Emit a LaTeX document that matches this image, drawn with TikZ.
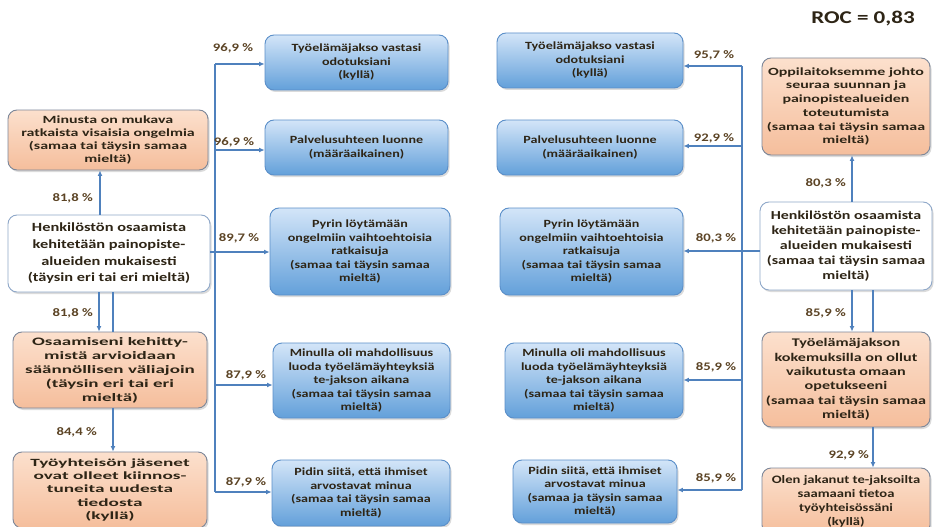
\documentclass[tikz,border=0pt]{standalone}
\usepackage{fontspec}
\setmainfont{Carlito}[FakeStretch=1.28]
% wider cuts of the same face for the side columns
\newfontfamily\fontsB{Carlito}[FakeStretch=1.31]
\newfontfamily\fontsC{Carlito}[FakeStretch=1.38]
\newfontfamily\fontsD{Carlito}[FakeStretch=1.45]
\newfontfamily\fontsE{Carlito}[FakeStretch=1.67]
\newfontfamily\fontsF{Carlito}[FakeStretch=1.75]
\usetikzlibrary{arrows.meta,shadows}

\definecolor{txt}{HTML}{2E2516}
\definecolor{pct}{HTML}{5C4425}
\definecolor{link}{HTML}{4F81BD}
\definecolor{peachtop}{HTML}{FCE0CD}
\definecolor{peachbot}{HTML}{F5BE9C}
\definecolor{peachedge}{HTML}{7D8799}
\definecolor{bluetop}{HTML}{D3E5F8}
\definecolor{bluebot}{HTML}{63A0DA}
\definecolor{blueedge}{HTML}{5B8FC9}
\definecolor{whiteedge}{HTML}{8FA8C9}

\tikzset{
  card/.style={rounded corners=9pt, align=center, text=txt, inner sep=1pt,
    font=\bfseries\fontsize{11}{13.5}\selectfont, line width=0.9pt,
    drop shadow={opacity=0.28, shadow xshift=1.5pt, shadow yshift=-2pt}},
  peachcard/.style={card, draw=peachedge, top color=peachtop, bottom color=peachbot},
  bluecard/.style={card, draw=blueedge, top color=bluetop, bottom color=bluebot},
  plaincard/.style={card, draw=whiteedge, fill=white},
  conn/.style={draw=link, line width=1.3pt},
  arr/.style={conn, -{Latex[length=5.5pt,width=5pt]}},
  pctlabel/.style={text=pct, font=\bfseries\fontsize{11.5}{13}\selectfont, inner sep=1pt},
}

\begin{document}
\begin{tikzpicture}[x=1pt,y=-1pt]
\useasboundingbox[fill=white] (0,0) rectangle (935,527);

% ---- left column ----
\node[peachcard, minimum width=200pt, minimum height=60pt,
      font=\fontsD\bfseries\fontsize{11}{12.7}\selectfont] (L1) at (108,140)
  {Minusta on mukava\\ratkaista visaisia ongelmia\\(samaa tai täysin samaa\\mieltä)};
\node[plaincard, minimum width=202pt, minimum height=77pt,
      font=\fontsB\bfseries\fontsize{12.5}{16.7}\selectfont] (L2) at (109,253.5)
  {Henkilöstön osaamista\\kehitetään painopiste-\\alueiden mukaisesti\\(täysin eri tai eri mieltä)};
\node[peachcard, minimum width=194pt, minimum height=76pt,
      font=\fontsE\bfseries\fontsize{11.4}{14}\selectfont] (L3) at (110,370)
  {Osaamiseni kehitty-\\mistä arvioidaan\\säännöllisen väliajoin\\(täysin eri tai eri\\mieltä)};
\node[peachcard, minimum width=194pt, minimum height=76pt,
      font=\fontsF\bfseries\fontsize{11}{13.3}\selectfont] (L4) at (110,490)
  {Työyhteisön jäsenet\\ovat olleet kiinnos-\\tuneita uudesta\\tiedosta\\(kyllä)};

% ---- middle left column ----
\node[bluecard, minimum width=183pt, minimum height=55pt] (M1) at (356.5,62.5)
  {Työelämäjakso vastasi\\odotuksiani\\(kyllä)};
\node[bluecard, minimum width=183pt, minimum height=55pt] (M2) at (356.5,147.5)
  {Palvelusuhteen luonne\\(määräaikainen)};
\node[bluecard, minimum width=180pt, minimum height=87pt] (M3) at (360,251.5)
  {Pyrin löytämään\\ongelmiin vaihtoehtoisia\\ratkaisuja\\(samaa tai täysin samaa\\mieltä)};
\node[bluecard, minimum width=177pt, minimum height=75pt] (M4) at (361.5,380.5)
  {Minulla oli mahdollisuus\\luoda työelämäyhteyksiä\\te-jakson aikana\\(samaa tai täysin samaa\\mieltä)};
\node[bluecard, minimum width=178pt, minimum height=66pt] (M5) at (361,493)
  {Pidin siitä, että ihmiset\\arvostavat minua\\(samaa tai täysin samaa\\mieltä)};

% ---- middle right column ----
\node[bluecard, minimum width=186pt, minimum height=55pt] (R1) at (590,60.5)
  {Työelämäjakso vastasi\\odotuksiani\\(kyllä)};
\node[bluecard, minimum width=186pt, minimum height=55pt] (R2) at (590,147.5)
  {Palvelusuhteen luonne\\(määräaikainen)};
\node[bluecard, minimum width=183pt, minimum height=87pt] (R3) at (591.5,251.5)
  {Pyrin löytämään\\ongelmiin vaihtoehtoisia\\ratkaisuja\\(samaa tai täysin samaa\\mieltä)};
\node[bluecard, minimum width=178pt, minimum height=75pt] (R4) at (594,380.5)
  {Minulla oli mahdollisuus\\luoda työelämäyhteyksiä\\te-jakson aikana\\(samaa tai täysin samaa\\mieltä)};
\node[bluecard, minimum width=164pt, minimum height=63pt] (R5) at (595,491.5)
  {Pidin siitä, että ihmiset\\arvostavat minua\\(samaa ja täysin samaa\\mieltä)};

% ---- right column ----
\node[text=txt, font=\bfseries\fontsize{18}{20}\selectfont] (roc) at (863,19) {ROC = 0,83};
\node[peachcard, minimum width=168pt, minimum height=97pt,
      font=\fontsD\bfseries\fontsize{11}{13.7}\selectfont] (RA) at (846,106.5)
  {Oppilaitoksemme johto\\seuraa suunnan ja\\painopistealueiden\\toteutumista\\(samaa tai täysin samaa\\mieltä)};
\node[plaincard, minimum width=172pt, minimum height=88pt,
      font=\fontsB\bfseries\fontsize{12.2}{15}\selectfont] (RH) at (846,246)
  {Henkilöstön osaamista\\kehitetään painopiste-\\alueiden mukaisesti\\(samaa tai täysin samaa\\mieltä)};
\node[peachcard, minimum width=168pt, minimum height=95pt,
      font=\fontsC\bfseries\fontsize{11.7}{14.4}\selectfont] (RB) at (846,379.5)
  {Työelämäjakson\\kokemuksilla on ollut\\vaikutusta omaan\\opetukseeni\\(samaa tai täysin samaa\\mieltä)};
\node[peachcard, minimum width=168pt, minimum height=66pt,
      font=\bfseries\fontsize{11.4}{14}\selectfont] (RC) at (846,501)
  {Olen jakanut te-jaksoilta\\saamaani tietoa\\työyhteisössäni\\(kyllä)};

% ---- left connectors ----
\draw[arr] (100,0 |- L2.north) -- (100,0 |- L1.south);
\draw[arr] (99,0 |- L2.south) -- (99,0 |- L3.north);
\draw[conn] (113,0 |- L2.south) -- (113,0 |- L3.north);
\draw[arr] (113,0 |- L3.south) -- (113,0 |- L4.north);
\node[pctlabel, anchor=east] (pl1) at (94,198) {81,8 \%};
\node[pctlabel, anchor=east] (pl2) at (94,313) {81,8 \%};
\node[pctlabel, anchor=east] (pl3) at (98,432) {84,4 \%};

% fan from the left "Henkilöstön" box to the blue cards
\coordinate (ja) at (215,64);
\coordinate (jb) at (215,150);
\coordinate (jc) at (215,252);
\coordinate (jd) at (215,385);
\coordinate (je) at (215,492);
\draw[conn] (L2.east |- jc) -- (jc);
\draw[conn] (ja) -- (je);
\draw[arr] (ja) -- (ja -| M1.west);
\draw[arr] (jb) -- (jb -| M2.west);
\draw[arr] (jc) -- (jc -| M3.west);
\draw[arr] (jd) -- (jd -| M4.west);
\draw[arr] (je) -- (je -| M5.west);
\node[pctlabel] (pm1) at (233,48) {96,9 \%};
\node[pctlabel] (pm2) at (234,142) {96,9 \%};
\node[pctlabel] (pm3) at (239,238) {89,7 \%};
\node[pctlabel] (pm4) at (246,375) {87,9 \%};
\node[pctlabel] (pm5) at (246,482) {87,9 \%};

% fan from the right "Henkilöstön" box to the blue cards
\coordinate (ka) at (742,66);
\coordinate (kb) at (742,146);
\coordinate (kc) at (742,251);
\coordinate (kd) at (742,380);
\coordinate (ke) at (742,490);
\draw[conn] (RH.west |- kc) -- (kc);
\draw[conn] (ka) -- (ke);
\draw[arr] (ka) -- (ka -| R1.east);
\draw[arr] (kb) -- (kb -| R2.east);
\draw[arr] (kc) -- (kc -| R3.east);
\draw[arr] (kd) -- (kd -| R4.east);
\draw[arr] (ke) -- (ke -| R5.east);
\node[pctlabel] (pr1) at (714,55) {95,7 \%};
\node[pctlabel] (pr2) at (714,138) {92,9 \%};
\node[pctlabel] (pr3) at (716,238) {80,3 \%};
\node[pctlabel] (pr4) at (716,367) {85,9 \%};
\node[pctlabel] (pr5) at (716,478) {85,9 \%};

% ---- right column connectors ----
\draw[arr] (852,0 |- RH.north) -- (852,0 |- RA.south);
\draw[arr] (852,0 |- RH.south) -- (852,0 |- RB.north);
\draw[conn] (873,0 |- RH.south) -- (873,0 |- RB.north);
\draw[arr] (873,0 |- RB.south) -- (873,0 |- RC.north);
\node[pctlabel, anchor=east] (pa) at (847,183) {80,3 \%};
\node[pctlabel, anchor=east] (pb) at (847,313) {85,9 \%};
\node[pctlabel, anchor=east] (pc) at (870,455) {92,9 \%};
\end{tikzpicture}
\end{document}
